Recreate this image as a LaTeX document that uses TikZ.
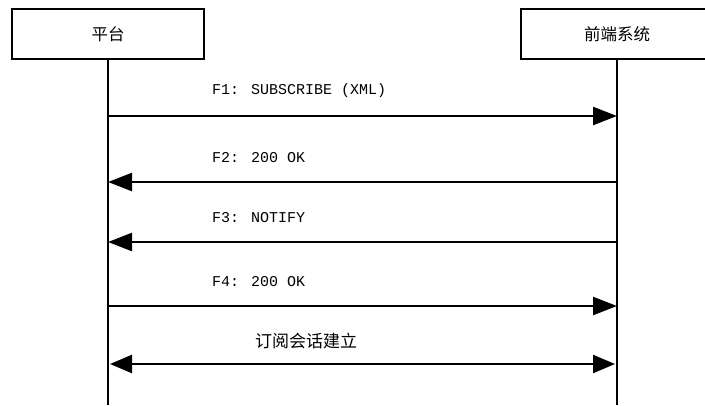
\documentclass[tikz,border=0pt]{standalone}
\usepackage{fontspec}
\setmainfont{Liberation Mono}
\newfontfamily\cjk{Noto Sans CJK SC}
\usetikzlibrary{arrows.meta}
\begin{document}
\begin{tikzpicture}[x=1pt,y=-1pt,
  actor/.style={draw,line width=2.6pt,minimum width=192pt,minimum height=50pt,font=\cjk\fontsize{16.5}{17}\selectfont},
  life/.style={line width=2.6pt},
  msg/.style={line width=2.4pt,-{Triangle[length=24pt,width=18pt]}},
  bimsg/.style={line width=2.4pt,{Triangle[length=22pt,width=18pt]}-{Triangle[length=22pt,width=18pt]}},
  lbl/.style={anchor=west,inner sep=0pt,font=\fontsize{15}{15}\selectfont},
  clbl/.style={anchor=west,inner sep=0pt,font=\cjk\fontsize{17}{17}\selectfont}]
\useasboundingbox (0,0) rectangle (705,405);
\begin{scope}
\clip (0,0) rectangle (705,405);
\node[actor] (pt) at (108,34) {平台};
\node[actor] (fe) at (617,34) {前端系统};
\coordinate (pb) at (108,405);
\coordinate (fb) at (617,405);
\draw[life] (pt.south) -- (pb);
\draw[life] (fe.south) -- (fb);
\end{scope}
\coordinate (l1) at (108,116); \coordinate (r1) at (617,116);
\coordinate (l2) at (108,182); \coordinate (r2) at (617,182);
\coordinate (l3) at (108,242); \coordinate (r3) at (617,242);
\coordinate (l4) at (108,306); \coordinate (r4) at (617,306);
\coordinate (l5) at (110,364); \coordinate (r5) at (615,364);
\draw[msg] (l1) -- (r1);
\draw[msg] (r2) -- (l2);
\draw[msg] (r3) -- (l3);
\draw[msg] (l4) -- (r4);
\draw[bimsg] (l5) -- (r5);
\node[lbl] (t1) at (212,91) {F1: SUBSCRIBE (XML)};
\node[lbl] (t2) at (212,158) {F2: 200 OK};
\node[lbl] (t3) at (212,218) {F3: NOTIFY};
\node[lbl] (t4) at (212,282) {F4: 200 OK};
\node[clbl] (t5) at (255,341) {订阅会话建立};
\end{tikzpicture}
\end{document}
